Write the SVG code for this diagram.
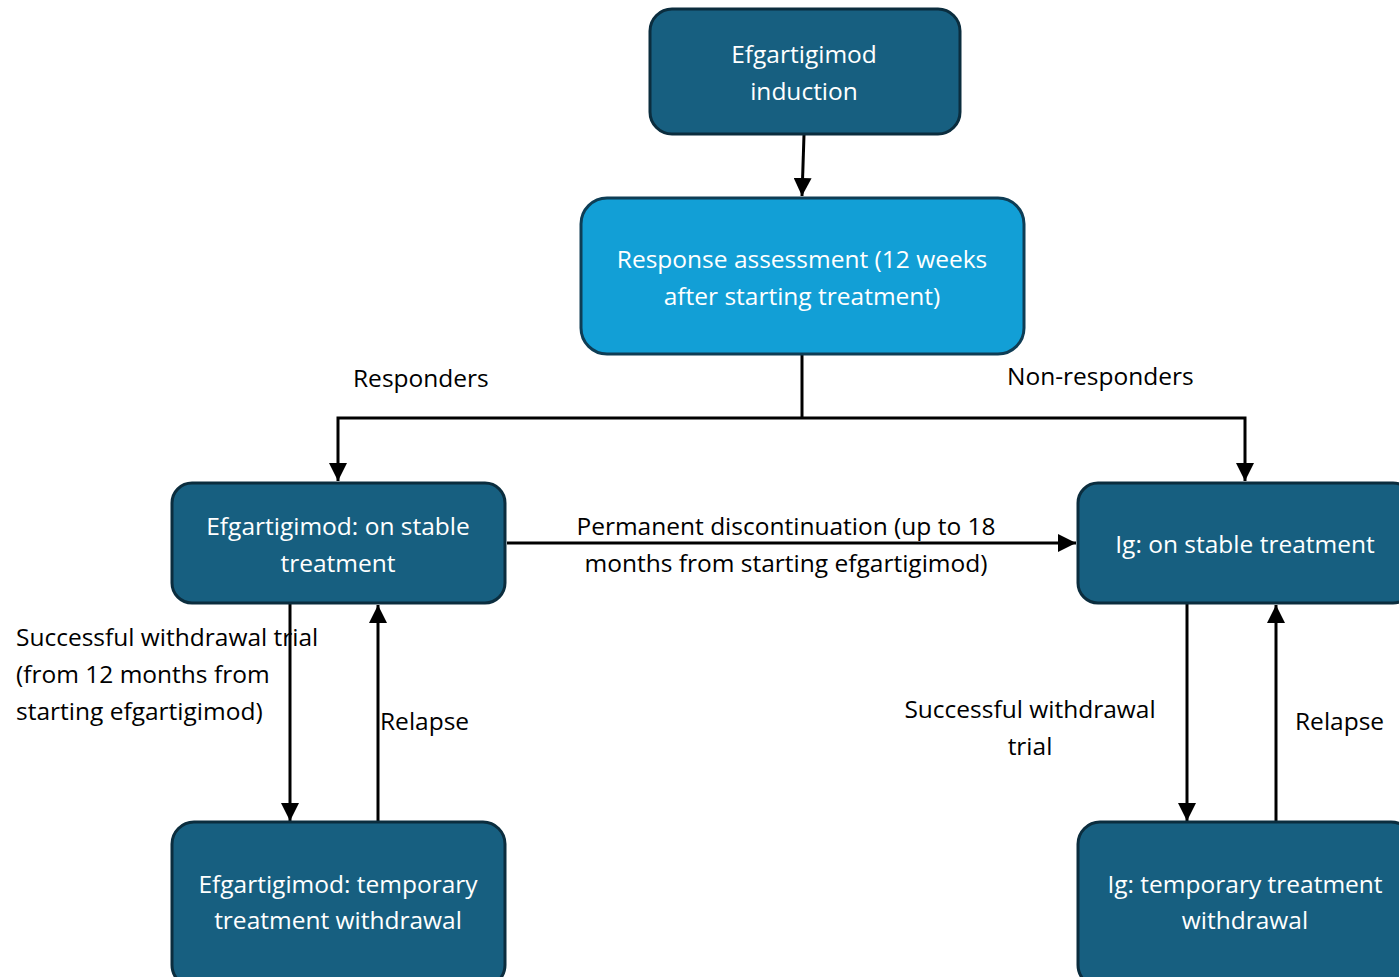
<svg xmlns="http://www.w3.org/2000/svg" width="1399" height="977" viewBox="0 0 1399 977">
<defs>
<style>
.node{fill:#175F80;stroke:#0B2D3E;stroke-width:3}
.light{fill:#129FD6;stroke:#0E3D55;stroke-width:3}
.nt{font-family:"Open Sans","Liberation Sans",sans-serif;font-size:24.5px;fill:#FFFFFF;text-anchor:middle}
.lb{font-family:"Open Sans","Liberation Sans",sans-serif;font-size:24.5px;fill:#000000}
.c{fill:none;stroke:#000000;stroke-width:3}
</style>
<marker id="ah" viewBox="0 0 10 10" refX="10" refY="5" markerWidth="6" markerHeight="6" markerUnits="strokeWidth" orient="auto">
<path d="M0,0 L10,5 L0,10 z" fill="#000000"/>
</marker>
</defs>
<rect width="1399" height="977" fill="#FFFFFF"/>
<g id="connectors">
<line class="c" x1="804" y1="135" x2="802" y2="196" marker-end="url(#ah)"/>
<polyline class="c" points="802,355 802,418"/>
<polyline class="c" points="802,418 338,418 338,481" marker-end="url(#ah)"/>
<polyline class="c" points="802,418 1245,418 1245,481" marker-end="url(#ah)"/>
<line class="c" x1="507" y1="543" x2="1076" y2="543" marker-end="url(#ah)"/>
<line class="c" x1="290" y1="604" x2="290" y2="821" marker-end="url(#ah)"/>
<line class="c" x1="378" y1="821" x2="378" y2="605" marker-end="url(#ah)"/>
<line class="c" x1="1187" y1="604" x2="1187" y2="821" marker-end="url(#ah)"/>
<line class="c" x1="1276" y1="821" x2="1276" y2="605" marker-end="url(#ah)"/>
</g>
<g id="labels">
<text class="lb" x="353" y="387">Responders</text>
<text class="lb" x="1007" y="385">Non-responders</text>
<text class="lb" x="786" y="535" text-anchor="middle">Permanent discontinuation (up to 18</text>
<text class="lb" x="786" y="572" text-anchor="middle">months from starting efgartigimod)</text>
<text class="lb" x="16" y="646">Successful withdrawal trial</text>
<text class="lb" x="16" y="683">(from 12 months from</text>
<text class="lb" x="16" y="720">starting efgartigimod)</text>
<text class="lb" x="380" y="730">Relapse</text>
<text class="lb" x="1030" y="718" text-anchor="middle">Successful withdrawal</text>
<text class="lb" x="1030" y="755" text-anchor="middle">trial</text>
<text class="lb" x="1295" y="730">Relapse</text>
</g>
<g id="n-induction">
<rect class="node" x="650" y="9" width="310" height="125" rx="22"/>
<text class="nt" x="804" y="63">Efgartigimod</text>
<text class="nt" x="804" y="100">induction</text>
</g>
<g id="n-response">
<rect class="light" x="581" y="198" width="443" height="156" rx="26"/>
<text class="nt" x="802" y="268">Response assessment (12 weeks</text>
<text class="nt" x="802" y="305">after starting treatment)</text>
</g>
<g id="n-efg-stable">
<rect class="node" x="172" y="483" width="333" height="120" rx="20"/>
<text class="nt" x="338" y="535">Efgartigimod: on stable</text>
<text class="nt" x="338" y="572">treatment</text>
</g>
<g id="n-ig-stable">
<rect class="node" x="1078" y="483" width="335" height="120" rx="20"/>
<text class="nt" x="1245" y="553">Ig: on stable treatment</text>
</g>
<g id="n-efg-withdrawal">
<rect class="node" x="172" y="822" width="333" height="165" rx="22"/>
<text class="nt" x="338" y="893">Efgartigimod: temporary</text>
<text class="nt" x="338" y="929">treatment withdrawal</text>
</g>
<g id="n-ig-withdrawal">
<rect class="node" x="1078" y="822" width="335" height="165" rx="22"/>
<text class="nt" x="1245" y="893">Ig: temporary treatment</text>
<text class="nt" x="1245" y="929">withdrawal</text>
</g>
</svg>
